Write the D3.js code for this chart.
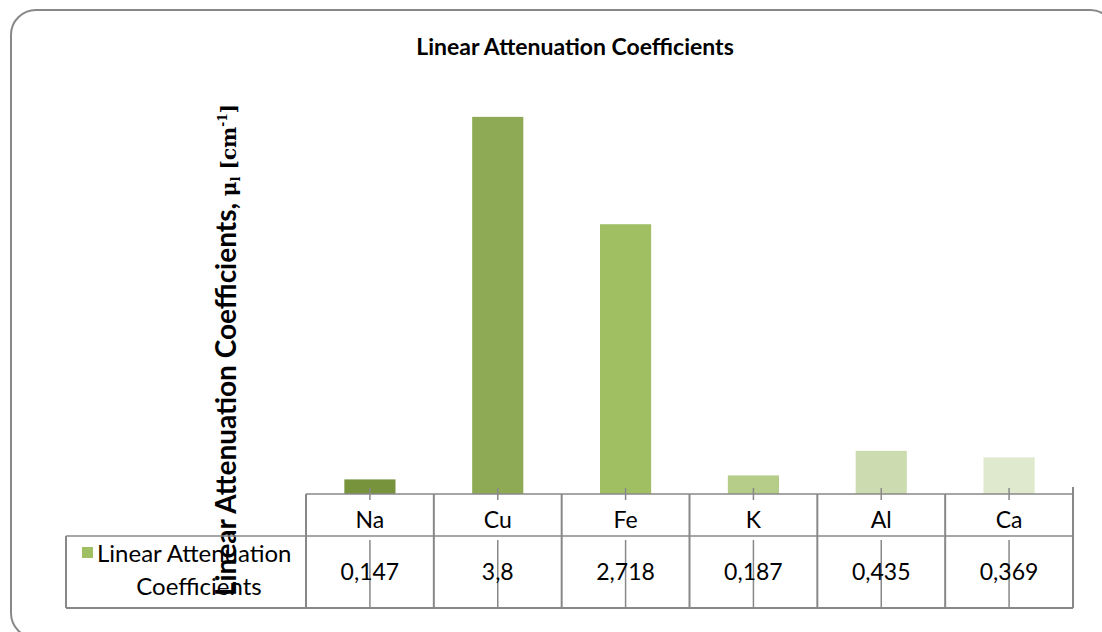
<!DOCTYPE html>
<html>
<head>
<meta charset="utf-8">
<script src="https://cdn.jsdelivr.net/npm/d3@7"></script>
<style>
  body { margin: 0; background: #fff; }
  svg text { font-family: Lato, "Open Sans", sans-serif; fill: #000; }
</style>
</head>
<body>
<div id="d3-container"></div>
<script>
// Data
const categories = ["Na", "Cu", "Fe", "K", "Al", "Ca"];
const values = [0.147, 3.8, 2.718, 0.187, 0.435, 0.369];
const valueLabels = ["0,147", "3,8", "2,718", "0,187", "0,435", "0,369"];
const barColors = ["#77933c", "#8eaa54", "#a0be62", "#b5cd88", "#cddcb0", "#dee9cd"];
const seriesName = ["Linear Attenuation", "Coefficients"];

const width = 1102;
const height = 632;
const plot = { left: 306, right: 1073, top: 97, bottom: 494 };
const table = { legendLeft: 66, rowMid: 536, bottom: 608 };
const lineColor = "#888";
const serif = "'DejaVu Serif', 'Liberation Serif', serif";

const svg = d3.select("#d3-container")
  .append("svg")
  .attr("width", width)
  .attr("height", height);

// Outer rounded frame (runs off the right and bottom edges)
svg.append("rect")
  .attr("x", 11)
  .attr("y", 10)
  .attr("width", 1104)
  .attr("height", 628)
  .attr("rx", 25)
  .attr("fill", "#fff")
  .attr("stroke", "#888")
  .attr("stroke-width", 2);

// Scales
const x = d3.scaleBand()
  .domain(categories)
  .range([plot.left, plot.right])
  .padding(0);

const y = d3.scaleLinear()
  .domain([0, 4])
  .range([plot.bottom, plot.top]);

const barW = x.bandwidth() * 0.4;

// Bars
svg.selectAll("rect.bar")
  .data(values)
  .enter()
  .append("rect")
  .attr("class", "bar")
  .attr("x", (d, i) => x(categories[i]) + (x.bandwidth() - barW) / 2)
  .attr("y", d => y(d))
  .attr("width", barW)
  .attr("height", d => y(0) - y(d))
  .style("fill", (d, i) => barColors[i]);

// Title
svg.append("text")
  .attr("x", 575)
  .attr("y", 55)
  .attr("text-anchor", "middle")
  .style("font-size", "23px")
  .style("font-weight", "bold")
  .text("Linear Attenuation Coefficients");

// Y-axis title (rotated)
const yTitle = svg.append("text")
  .attr("transform", "translate(236, 350) rotate(-90)")
  .attr("text-anchor", "middle")
  .style("font-size", "28px")
  .style("font-weight", "bold");

yTitle.append("tspan").text("Linear Attenuation Coefficients, ");
yTitle.append("tspan")
  .style("font-family", serif)
  .style("font-size", "20px")
  .text("μ");
yTitle.append("tspan")
  .style("font-family", serif)
  .style("font-size", "13px")
  .attr("dy", 4)
  .text("l");
yTitle.append("tspan")
  .style("font-family", serif)
  .style("font-size", "20px")
  .attr("dy", -4)
  .text(" [cm");
yTitle.append("tspan")
  .style("font-family", serif)
  .style("font-size", "12px")
  .attr("dy", -9)
  .text("-1");
yTitle.append("tspan")
  .style("font-family", serif)
  .style("font-size", "20px")
  .attr("dy", 9)
  .text("]");

// Data table lines
const g = svg.append("g")
  .attr("stroke", lineColor)
  .attr("fill", "none");

// Axis line / table top
g.append("line")
  .attr("x1", plot.left).attr("x2", plot.right)
  .attr("y1", plot.bottom).attr("y2", plot.bottom)
  .attr("stroke-width", 1.5);

// Row divider and bottom
g.append("line")
  .attr("x1", table.legendLeft).attr("x2", plot.right)
  .attr("y1", table.rowMid).attr("y2", table.rowMid)
  .attr("stroke-width", 1.5);
g.append("line")
  .attr("x1", table.legendLeft).attr("x2", plot.right)
  .attr("y1", table.bottom).attr("y2", table.bottom)
  .attr("stroke-width", 2);

// Legend cell left border
g.append("line")
  .attr("x1", table.legendLeft).attr("x2", table.legendLeft)
  .attr("y1", table.rowMid).attr("y2", table.bottom)
  .attr("stroke-width", 2);

// Column boundaries
const bounds = categories.map(c => x(c)).concat([plot.right]);
g.selectAll("line.bound")
  .data(bounds)
  .enter()
  .append("line")
  .attr("class", "bound")
  .attr("x1", d => d).attr("x2", d => d)
  .attr("y1", (d, i) => i === bounds.length - 1 ? plot.bottom - 7 : plot.bottom)
  .attr("y2", table.bottom)
  .attr("stroke-width", 2);

// Category-centre ticks
g.selectAll("line.tick-top")
  .data(categories)
  .enter()
  .append("line")
  .attr("x1", d => x(d) + x.bandwidth() / 2)
  .attr("x2", d => x(d) + x.bandwidth() / 2)
  .attr("y1", plot.bottom - 6)
  .attr("y2", plot.bottom + 6)
  .attr("stroke-width", 1.5);

g.selectAll("line.tick-val")
  .data(categories)
  .enter()
  .append("line")
  .attr("x1", d => x(d) + x.bandwidth() / 2)
  .attr("x2", d => x(d) + x.bandwidth() / 2)
  .attr("y1", table.rowMid + 4)
  .attr("y2", table.bottom)
  .attr("stroke-width", 1.5);

// Category labels
svg.selectAll("text.cat")
  .data(categories)
  .enter()
  .append("text")
  .attr("class", "cat")
  .attr("x", d => x(d) + x.bandwidth() / 2)
  .attr("y", 528)
  .attr("text-anchor", "middle")
  .style("font-size", "23px")
  .text(d => d);

// Value labels
svg.selectAll("text.val")
  .data(valueLabels)
  .enter()
  .append("text")
  .attr("class", "val")
  .attr("x", (d, i) => x(categories[i]) + x.bandwidth() / 2)
  .attr("y", 580)
  .attr("text-anchor", "middle")
  .style("font-size", "23px")
  .text(d => d);

// Legend key
svg.append("rect")
  .attr("x", 82)
  .attr("y", 547)
  .attr("width", 11)
  .attr("height", 11)
  .style("fill", barColors[2]);

svg.append("text")
  .attr("x", 97)
  .attr("y", 562)
  .style("font-size", "24px")
  .text(seriesName[0]);

svg.append("text")
  .attr("x", 199)
  .attr("y", 595)
  .attr("text-anchor", "middle")
  .style("font-size", "24px")
  .text(seriesName[1]);
</script>
</body>
</html>
